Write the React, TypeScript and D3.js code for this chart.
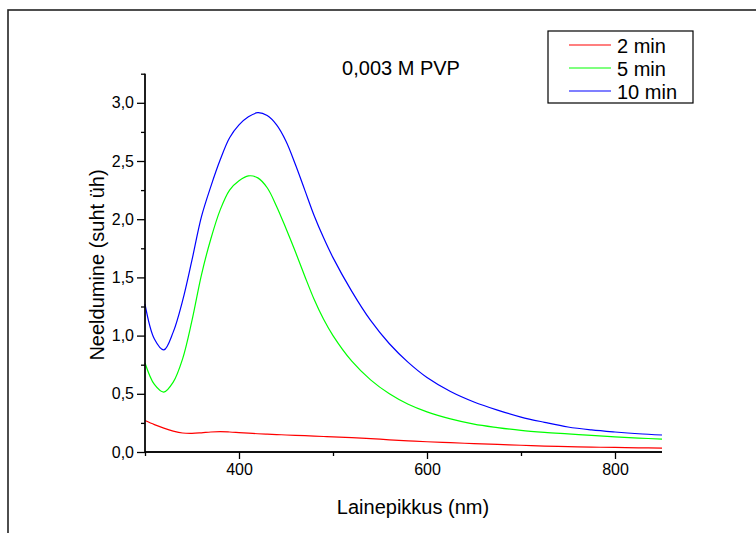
import React, { Component } from "react";
import * as d3 from "d3";

// wavelength grid (nm) shared by all three spectra
const wavelengths = [
  300, 310, 320, 330, 340, 350, 360, 370, 380, 390, 400, 410, 420, 430, 440,
  450, 460, 470, 480, 490, 500, 520, 540, 560, 580, 600, 625, 650, 675, 700,
  725, 750, 775, 800, 825, 850,
];

const min2 = [
  0.27, 0.235, 0.205, 0.18, 0.163, 0.16, 0.165, 0.172, 0.175, 0.172, 0.167,
  0.162, 0.157, 0.153, 0.15, 0.146, 0.143, 0.14, 0.136, 0.133, 0.13, 0.124,
  0.115, 0.105, 0.096, 0.088, 0.08, 0.072, 0.065, 0.058, 0.051, 0.046, 0.042,
  0.039, 0.036, 0.034,
];

const min5 = [
  0.765, 0.58, 0.515, 0.6, 0.8, 1.13, 1.52, 1.83, 2.08, 2.25, 2.33, 2.372,
  2.355, 2.27, 2.11, 1.92, 1.72, 1.51, 1.31, 1.14, 1.0, 0.78, 0.62, 0.5, 0.41,
  0.345, 0.285, 0.24, 0.21, 0.185, 0.168, 0.155, 0.142, 0.13, 0.12, 0.11,
];

const min10 = [
  1.27, 0.97, 0.877, 1.03, 1.3, 1.65, 2.02, 2.28, 2.51, 2.7, 2.81, 2.88,
  2.915, 2.89, 2.81, 2.67, 2.47, 2.25, 2.03, 1.84, 1.67, 1.38, 1.13, 0.93,
  0.77, 0.64, 0.52, 0.43, 0.36, 0.3, 0.255, 0.215, 0.19, 0.172, 0.157, 0.146,
];

const seriesNames = ["2 min", "5 min", "10 min"];
const seriesColors = ["#ff0000", "#00ff00", "#0000ff"];

const xMajor = [400, 600, 800];
const xMinor = [300, 500, 700];
const yMajor = [0, 0.5, 1, 1.5, 2, 2.5, 3];
const yMinor = [0.25, 0.75, 1.25, 1.75, 2.25, 2.75, 3.25];

const font = "Arial, 'Liberation Sans', sans-serif";

class App extends Component {
  svgRef = React.createRef<SVGSVGElement>();

  componentDidMount() {
    const svg = d3.select(this.svgRef.current);
    svg.selectAll("*").remove();

    const x = d3.scaleLinear().domain([300, 850]).range([145, 662]);
    const y = d3.scaleLinear().domain([0, 3.25]).range([452, 73.7]);
    const comma = (d) => d3.format(".1f")(d).replace(".", ",");

    // outer frame (right and bottom sides fall outside the picture)
    svg
      .append("rect")
      .attr("x", 8)
      .attr("y", 10)
      .attr("width", 800)
      .attr("height", 600)
      .attr("fill", "none")
      .attr("stroke", "#222")
      .attr("stroke-width", 1.6);

    const lines = [min2, min5, min10];
    const line = d3
      .line<number>()
      .x((d, i) => x(wavelengths[i]))
      .y((d) => y(d))
      .curve(d3.curveCatmullRom);

    svg
      .append("g")
      .selectAll("path")
      .data(lines)
      .enter()
      .append("path")
      .attr("d", (d) => line(d))
      .attr("fill", "none")
      .attr("stroke", (d, i) => seriesColors[i])
      .attr("stroke-width", 1.2);

    // x axis
    const gx = svg.append("g").attr("transform", "translate(0,452)");
    gx.call(
      d3.axisBottom(x).tickValues(xMajor).tickSize(7).tickPadding(5).tickFormat(d3.format("d"))
    );
    gx.append("g").call(
      d3.axisBottom(x).tickValues(xMinor).tickSize(4).tickFormat(() => "")
    );
    gx.selectAll(".domain").attr("d", "M145,0H662");

    // y axis
    const gy = svg.append("g").attr("transform", "translate(145,0)");
    gy.call(d3.axisLeft(y).tickValues(yMajor).tickSize(8).tickPadding(3).tickFormat(comma));
    gy.append("g").call(
      d3.axisLeft(y).tickValues(yMinor).tickSize(4).tickFormat(() => "")
    );
    gy.selectAll(".domain").attr("d", "M0,452V73.7");

    svg.selectAll(".tick line, .domain").attr("stroke", "#000").attr("stroke-width", 1.3);
    svg
      .selectAll(".tick text")
      .attr("font-family", font)
      .attr("font-size", 16)
      .attr("fill", "#000");

    // titles
    svg
      .append("text")
      .attr("x", 413)
      .attr("y", 514)
      .attr("text-anchor", "middle")
      .attr("font-family", font)
      .attr("font-size", 20)
      .text("Lainepikkus (nm)");

    svg
      .append("text")
      .attr("transform", "translate(104,265) rotate(-90)")
      .attr("text-anchor", "middle")
      .attr("font-family", font)
      .attr("font-size", 20)
      .text("Neeldumine (suht üh)");

    svg
      .append("text")
      .attr("x", 401)
      .attr("y", 75)
      .attr("text-anchor", "middle")
      .attr("font-family", font)
      .attr("font-size", 20)
      .text("0,003 M PVP");

    // legend
    const legend = svg.append("g");
    legend
      .append("rect")
      .attr("x", 548)
      .attr("y", 31)
      .attr("width", 145)
      .attr("height", 72)
      .attr("fill", "#fff")
      .attr("stroke", "#000")
      .attr("stroke-width", 1.2);

    const rows = legend
      .selectAll("g.row")
      .data(seriesNames)
      .enter()
      .append("g")
      .attr("class", "row")
      .attr("transform", (d, i) => "translate(0," + (45 + i * 23) + ")");

    rows
      .append("line")
      .attr("x1", 569)
      .attr("x2", 611)
      .attr("stroke", (d, i) => seriesColors[i])
      .attr("stroke-width", 1.2);

    rows
      .append("text")
      .attr("x", 617)
      .attr("y", 8)
      .attr("font-family", font)
      .attr("font-size", 20)
      .text((d) => d);
  }

  render() {
    return (
      <div style={{ position: "absolute", left: 0, top: 0 }}>
        <svg ref={this.svgRef} width={756} height={533} style={{ display: "block", background: "#fff" }} />
      </div>
    );
  }
}

export default App;
